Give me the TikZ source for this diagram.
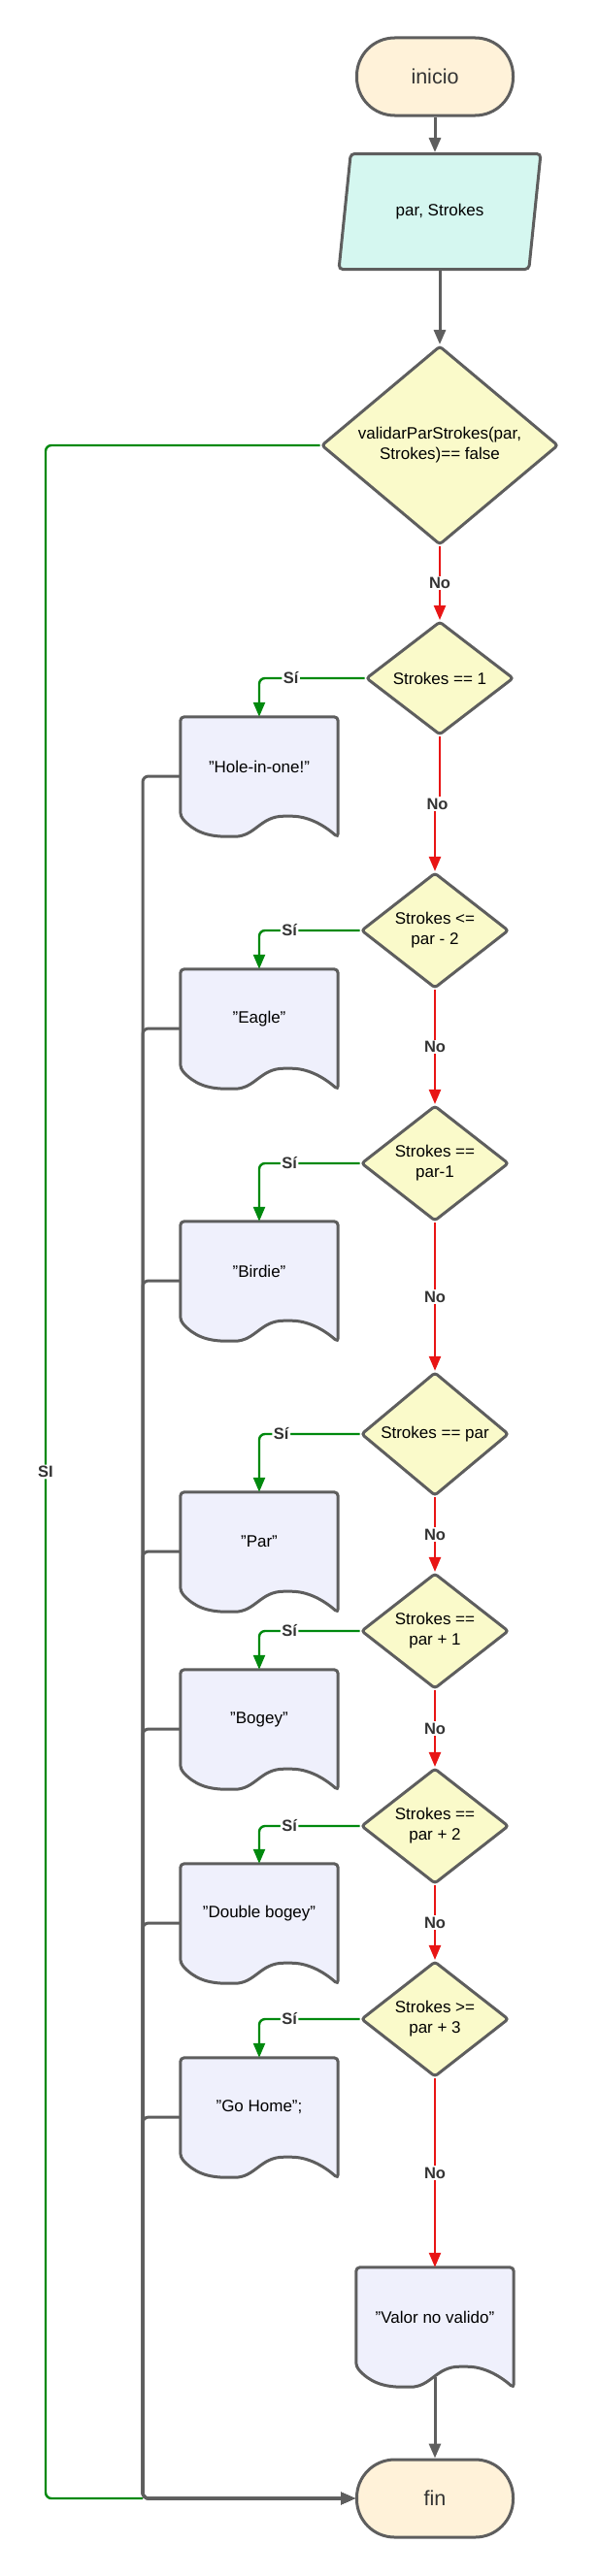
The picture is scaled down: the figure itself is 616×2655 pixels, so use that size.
\documentclass[tikz,border=0pt]{standalone}
\usepackage{fontspec}
\setmainfont{Liberation Sans}
\usetikzlibrary{shapes.geometric,arrows.meta,calc,backgrounds}

\definecolor{edgegray}{HTML}{5E5E5E}
\definecolor{termfill}{HTML}{FFF2D9}
\definecolor{iofill}{HTML}{D5F7F0}
\definecolor{decfill}{HTML}{FAFACA}
\definecolor{docfill}{HTML}{EFF0FC}
\definecolor{yesgreen}{HTML}{00890E}
\definecolor{nored}{HTML}{E81515}
\definecolor{labelgray}{HTML}{333333}

\tikzset{
  box/.style={draw=edgegray, line width=3pt},
  term/.style={box, fill=termfill, rounded corners=39pt, minimum width=161pt, minimum height=80pt,
    font=\fontsize{21.5}{25}\selectfont, text=labelgray},
  io/.style={box, fill=iofill, trapezium, trapezium left angle=74, trapezium right angle=106,
    trapezium stretches=true, minimum width=208pt, minimum height=119pt, rounded corners=4pt},
  dec/.style={box, fill=decfill, diamond, inner sep=0pt, minimum width=152pt, minimum height=117pt,
    rounded corners=3pt, align=center},
  docbox/.style={inner sep=0pt, minimum width=162pt, minimum height=102pt, align=center},
  flow/.style={draw=edgegray, line width=3pt, rounded corners=6pt, -{Triangle[length=15pt,width=12pt]}},
  yes/.style={draw=yesgreen, line width=2.4pt, rounded corners=6pt, -{Triangle[length=15pt,width=12pt]}},
  no/.style={draw=nored, line width=2.4pt, -{Triangle[length=15pt,width=12pt]}},
  lbl/.style={fill=white, inner sep=1.5pt, text=labelgray, font=\fontsize{16.5}{19}\selectfont\bfseries},
}

% document outline drawn behind a docbox node
\newcommand{\docshape}[1]{%
  \begin{scope}[on background layer]
    \draw[box, fill=docfill, rounded corners=4pt]
      (#1.south west)
      .. controls +(14,16) and +(-24,0) .. ($(#1.south west)!0.32!(#1.south east)+(0,21)$)
      .. controls +(25,0) and +(-28,0) .. ($(#1.south west)!0.68!(#1.south east)$)
      .. controls +(20,0) and +(-16,-14) .. ($(#1.south east)+(0,22)$)
      -- (#1.north east) -- (#1.north west) -- cycle;
  \end{scope}}

\begin{document}
\begin{tikzpicture}[x=1pt, y=-1pt, every node/.append style={font=\fontsize{17}{21}\selectfont}]
  \useasboundingbox (0,0) rectangle (616,2655);

  \node[term] (inicio) at (448,79) {inicio};
  \node[io] (datos) at (453,218) {par, Strokes};
  \node[dec, minimum width=244pt, minimum height=198pt] (valida) at (453,459)
    {validarParStrokes(par,\\Strokes)== false};

  \node[dec] (d1) at (453,699) {Strokes == 1};
  \node[dec] (d2) at (448,959) {Strokes <=\\par - 2};
  \node[dec] (d3) at (448,1199) {Strokes ==\\par-1};
  \node[dec] (d4) at (448,1478) {Strokes == par};
  \node[dec] (d5) at (448,1681) {Strokes ==\\par + 1};
  \node[dec] (d6) at (448,1882) {Strokes ==\\par + 2};
  \node[dec] (d7) at (448,2081) {Strokes >=\\par + 3};

  \node[docbox] (hole) at (267,790) {"Hole-in-one!"};
  \node[docbox] (eagle) at (267,1050) {"Eagle"};
  \node[docbox] (birdie) at (267,1310) {"Birdie"};
  \node[docbox] (par) at (267,1589) {"Par"};
  \node[docbox] (bogey) at (267,1772) {"Bogey"};
  \node[docbox] (dbogey) at (267,1972) {"Double bogey"};
  \node[docbox] (gohome) at (267,2172) {"Go Home";};
  \node[docbox] (novalido) at (448,2388) {"Valor no valido"};
  \foreach \n in {hole,eagle,birdie,par,bogey,dbogey,gohome,novalido}
    \docshape{\n};

  \node[term] (fin) at (448,2575) {fin};

  \coordinate (bus) at (147,2575);
  \coordinate (sicorner) at (47,2575);

  \draw[flow] (inicio.south) -- (inicio.south |- datos.north);
  \draw[flow] (valida.north |- datos.south) -- (valida.north);

  \draw[no] (valida.south) -- node[lbl] {No} (d1.north);
  \draw[no] (d1.south) |- ($(d1.south)!0.5!(d2.north)$) node[lbl] {No} -| (d2.north);
  \draw[no] (d2.south) -- node[lbl] {No} (d3.north);
  \draw[no] (d3.south) -- node[lbl] {No} (d4.north);
  \draw[no] (d4.south) -- node[lbl] {No} (d5.north);
  \draw[no] (d5.south) -- node[lbl] {No} (d6.north);
  \draw[no] (d6.south) -- node[lbl] {No} (d7.north);
  \draw[no] (d7.south) -- node[lbl] {No} (novalido.north);

  \draw[yes] (d1.west) -| node[lbl, pos=0.35] {Sí} (hole.north);
  \draw[yes] (d2.west) -| node[lbl, pos=0.35] {Sí} (eagle.north);
  \draw[yes] (d3.west) -| node[lbl, pos=0.35] {Sí} (birdie.north);
  \draw[yes] (d4.west) -| node[lbl, pos=0.39] {Sí} (par.north);
  \draw[yes] (d5.west) -| node[lbl, pos=0.35] {Sí} (bogey.north);
  \draw[yes] (d6.west) -| node[lbl, pos=0.35] {Sí} (dbogey.north);
  \draw[yes] (d7.west) -| node[lbl, pos=0.35] {Sí} (gohome.north);

  \draw[yes, -] (valida.west) -| node[lbl, pos=0.75] {SI} (sicorner) -- (bus);

  \foreach \n in {hole,eagle,birdie,par,bogey,dbogey,gohome}
    \draw[flow] ([yshift=-10pt]\n.west) -| (bus) -- (fin.west);
  \draw[flow] ([yshift=-11pt]novalido.south) -- (fin.north);
\end{tikzpicture}
\end{document}
